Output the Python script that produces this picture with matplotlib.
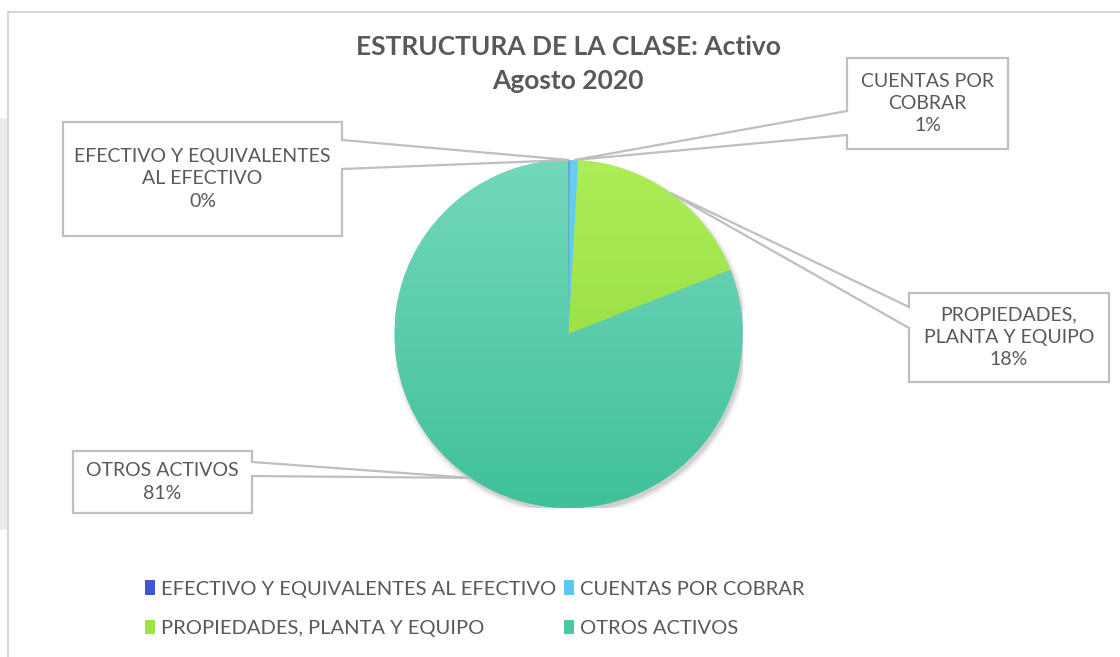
import numpy as np
import matplotlib
matplotlib.use("Agg")
import matplotlib.pyplot as plt
from matplotlib.patches import Polygon, Rectangle, Circle
from matplotlib.colors import to_rgb

# Data
labels = ["EFECTIVO Y EQUIVALENTES AL EFECTIVO", "CUENTAS POR COBRAR",
          "PROPIEDADES, PLANTA Y EQUIPO", "OTROS ACTIVOS"]
callout_text = ["EFECTIVO Y EQUIVALENTES\nAL EFECTIVO", "CUENTAS POR\nCOBRAR",
                "PROPIEDADES,\nPLANTA Y EQUIPO", "OTROS ACTIVOS"]
values = [0.1, 0.8, 18.1, 81.0]
pct_labels = ["0%", "1%", "18%", "81%"]

base_colors = ["#4158c9", "#5bc8ef", "#9fe348", "#4cc7a4"]
top_colors = ["#4a62d4", "#66cff3", "#abee57", "#74d8bb"]
bottom_colors = ["#3a4fbd", "#4fbfe8", "#8fd43b", "#40c09c"]

W, H = 1120, 657
TXT = "#595959"
plt.rcParams["font.family"] = ["Lato", "DejaVu Sans"]

fig = plt.figure(figsize=(W / 100, H / 100), dpi=100)


def px(x, y):
    return (x / W, 1 - y / H)


# frame of the chart area (screenshot look)
fig.patches.append(Rectangle(px(0, 530), 8 / W, 412 / H, transform=fig.transFigure,
                             facecolor="#ebebeb", edgecolor="none", zorder=-2))
fig.patches.append(Rectangle(px(8, 700), 1200 / W, 688 / H, transform=fig.transFigure,
                             facecolor="none", edgecolor="#d6d6d6", lw=1.5, zorder=-1))

# pie axes
cx, cy, r = 568.5, 334, 174
ax = fig.add_axes([(cx - r) / W, (H - cy - r) / H, 2 * r / W, 2 * r / H])
ax.axis("off")

# soft shadow
for i, a in enumerate(np.linspace(0.05, 0.012, 6)):
    ax.add_patch(Circle((0.012, -0.02), 1.0 + 0.006 * i, color="black",
                        alpha=a, lw=0, zorder=0))

wedges, _ = ax.pie(values, colors=base_colors, startangle=90, counterclock=False,
                   radius=1.0, wedgeprops=dict(linewidth=0))
for w in wedges:
    w.set_zorder(1)

# vertical gradient fill clipped to each wedge
n = 256
for w, c0, c1 in zip(wedges, top_colors, bottom_colors):
    t = np.linspace(0, 1, n)[:, None]
    grad = (1 - t) * np.array(to_rgb(c0)) + t * np.array(to_rgb(c1))
    img = ax.imshow(grad[:, None, :], extent=(-1, 1, -1, 1), aspect="auto",
                    zorder=2, interpolation="bilinear")
    img.set_clip_path(w)
ax.set_xlim(-1, 1)
ax.set_ylim(-1, 1)
ax.set_aspect("equal")

# title
fig.text(*px(568, 47), "ESTRUCTURA DE LA CLASE: Activo", ha="center", va="center",
         fontsize=19, fontweight="bold", color=TXT)
fig.text(*px(568, 81), "Agosto 2020", ha="center", va="center",
         fontsize=19, fontweight="bold", color=TXT)

# callout boxes: (left, top, right, bottom, side, y1, y2)
boxes = [
    (63, 122, 342, 236, "right", 140, 169),
    (847, 58, 1008, 149, "left", 111, 135),
    (909, 293, 1109, 382, "left", 307, 328),
    (73, 451, 252, 513, "right", 462, 476),
]

inv = fig.transFigure.inverted()
for w, (L, T, R, B, side, y1, y2), txt, pct in zip(wedges, boxes, callout_text, pct_labels):
    mid = np.deg2rad((w.theta1 + w.theta2) / 2)
    tip = inv.transform(ax.transData.transform((np.cos(mid), np.sin(mid))))
    if side == "right":
        pts = [px(L, T), px(R, T), px(R, y1), tuple(tip), px(R, y2), px(R, B), px(L, B)]
    else:
        pts = [px(L, T), px(R, T), px(R, B), px(L, B), px(L, y2), tuple(tip), px(L, y1)]
    fig.patches.append(Polygon(pts, closed=True, transform=fig.transFigure,
                               facecolor="white", edgecolor="#bfbfbf", lw=1.6, zorder=5))
    fig.text(*px((L + R) / 2, (T + B) / 2), txt + "\n" + pct, ha="center", va="center",
             fontsize=14, color=TXT, linespacing=1.37, zorder=6)

# legend, filled row by row like the original
order = [0, 2, 1, 3]
leg = fig.legend([wedges[i] for i in order], [labels[i] for i in order], ncol=2,
                 loc="upper left", bbox_to_anchor=px(127, 562),
                 frameon=False, handlelength=0.5, handleheight=0.75,
                 handletextpad=0.3, columnspacing=0.35, labelspacing=1.1,
                 prop=dict(size=14.5))
for t in leg.get_texts():
    t.set_color(TXT)

fig.savefig("out.png", dpi=100)
